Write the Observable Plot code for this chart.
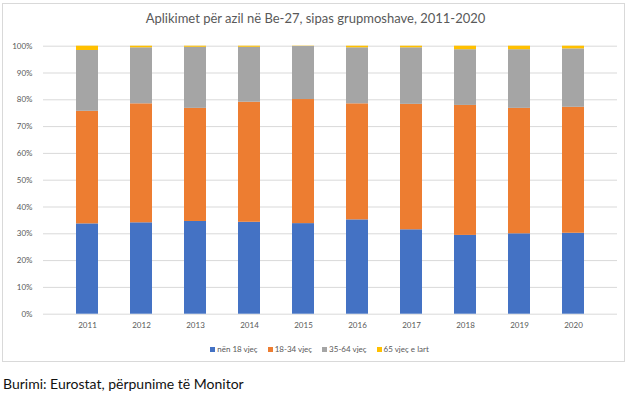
<!DOCTYPE html>
<html>
<head>
<meta charset="utf-8">
<script src="https://cdn.jsdelivr.net/npm/d3@7"></script>
<script src="https://cdn.jsdelivr.net/npm/@observablehq/plot@0.6"></script>
<style>
  body { margin: 0; background: #fff; font-family: Lato, "Open Sans", sans-serif; }
  #wrap { position: relative; width: 631px; height: 398px; overflow: hidden; }
  #box { position: absolute; left: 2px; top: 3px; width: 623px; height: 359px; border: 1px solid #d9d9d9; box-sizing: border-box; }
  #title { position: absolute; top: 10px; left: 0; width: 631px; text-align: center; font-size: 13px; color: #595959; }
  #chart { position: absolute; top: 35px; left: 0; }
  #legend { position: absolute; top: 344px; left: 0; width: 631px; text-align: center; font-size: 8px; color: #595959; padding-left: 8px; box-sizing: border-box; }
  #legend span.item { margin: 0 5px; }
  #legend span.sw { display: inline-block; width: 5px; height: 5px; margin-right: 2px; vertical-align: 0px; }
  #caption { position: absolute; top: 375px; left: 3px; font-size: 14px; color: #111; }
</style>
</head>
<body>
<div id="wrap">
  <div id="box"></div>
  <div id="title">Aplikimet për azil në Be-27, sipas grupmoshave, 2011-2020</div>
  <div id="chart"></div>
  <div id="legend"></div>
  <div id="caption">Burimi: Eurostat, përpunime të Monitor</div>
</div>
<script>
const years = ["2011","2012","2013","2014","2015","2016","2017","2018","2019","2020"];
const seriesNames = ["nën 18 vjeç", "18-34 vjeç", "35-64 vjeç", "65 vjeç e lart"];
const seriesColors = ["#4472C4", "#ED7D31", "#A5A5A5", "#FFC000"];
const under18 = [33.7, 34.1, 34.6, 34.3, 33.8, 35.2, 31.5, 29.4, 30.0, 30.2];
const age18to34 = [42.0, 44.4, 42.2, 44.8, 46.3, 43.3, 46.8, 48.5, 46.8, 47.0];
const age35to64 = [22.7, 20.9, 22.8, 20.5, 19.8, 20.9, 21.1, 20.8, 21.9, 21.8];
const age65plus = [1.6, 0.6, 0.4, 0.4, 0.1, 0.6, 0.6, 1.3, 1.3, 1.0];
const yTicks = [0, 0.1, 0.2, 0.3, 0.4, 0.5, 0.6, 0.7, 0.8, 0.9, 1.0];

const seriesValues = [under18, age18to34, age35to64, age65plus];
const rows = [];
years.forEach((yr, i) => {
  seriesNames.forEach((s, j) => {
    rows.push({year: yr, group: s, value: seriesValues[j][i] / 100});
  });
});

const plot = Plot.plot({
  width: 631,
  height: 300,
  marginTop: 10.7,
  marginBottom: 21.3,
  marginLeft: 43,
  marginRight: 14,
  style: { fontFamily: "Lato, 'Open Sans', sans-serif", fontSize: "8px", color: "#595959", background: "transparent" },
  x: { domain: years, padding: 0.6, label: null, tickSize: 0, tickPadding: 8 },
  y: { domain: [0, 1], ticks: yTicks, tickFormat: d3.format(".0%"), label: null, tickSize: 0, tickPadding: 11 },
  color: { domain: seriesNames, range: seriesColors },
  marks: [
    Plot.ruleY(yTicks, { stroke: "#d9d9d9", strokeWidth: 1 }),
    Plot.barY(rows, { x: "year", y: "value", fill: "group" }),
    Plot.axisX({ tickSize: 0, tickPadding: 8, label: null }),
    Plot.axisY({ ticks: yTicks, tickFormat: d3.format(".0%"), tickSize: 0, tickPadding: 11, label: null })
  ]
});
document.getElementById("chart").appendChild(plot);

const legend = document.getElementById("legend");
seriesNames.forEach((s, j) => {
  const item = document.createElement("span");
  item.className = "item";
  const sw = document.createElement("span");
  sw.className = "sw";
  sw.style.background = seriesColors[j];
  item.appendChild(sw);
  item.appendChild(document.createTextNode(s));
  legend.appendChild(item);
});
</script>
</body>
</html>
